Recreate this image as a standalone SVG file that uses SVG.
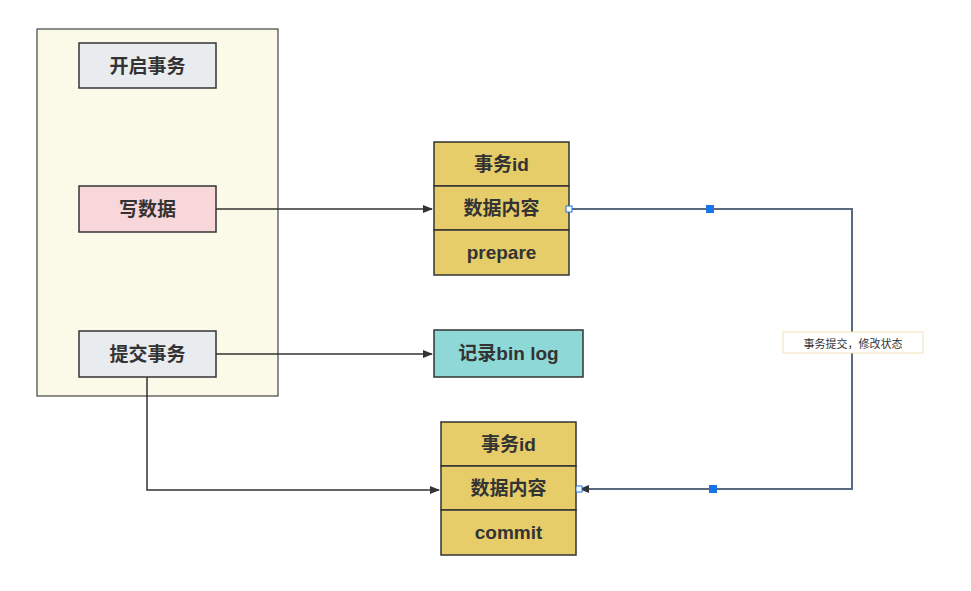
<svg xmlns="http://www.w3.org/2000/svg" width="971" height="591" viewBox="0 0 971 591">
<style>
.t{font-family:"Liberation Sans","Noto Sans CJK SC",sans-serif;font-weight:bold;font-size:19px;fill:#333;text-anchor:middle;dominant-baseline:central}
.b{stroke:#333;stroke-width:1.5}
.y{fill:#e6cd69}
.c{fill:none;stroke:#333;stroke-width:1.5}
.h{fill:#1a73e8}
.w{fill:#fff;stroke:#1a73e8;stroke-width:1}
</style>
<defs><marker id="a" markerWidth="10" markerHeight="8" refX="9" refY="4" orient="auto" markerUnits="userSpaceOnUse"><path d="M0,0 L10,4 L0,8 Z" fill="#333"/></marker></defs>
<rect width="971" height="591" fill="#fff"/>
<g id="container"><rect x="37" y="29" width="241" height="367" fill="#fbf9e8" stroke="#444" stroke-width="1.2"/></g>
<g id="start"><rect class="b" x="79" y="43" width="137" height="45" fill="#e9ecef"/><text class="t" x="147.5" y="66">开启事务</text></g>
<g id="write"><rect class="b" x="79" y="186" width="137" height="46" fill="#f8d7da"/><text class="t" x="147.5" y="209">写数据</text></g>
<g id="commitTx"><rect class="b" x="79" y="331" width="137" height="46" fill="#e9ecef"/><text class="t" x="147.5" y="354">提交事务</text></g>
<g id="prepareTable">
<rect class="b y" x="434" y="142" width="135" height="44"/><text class="t" x="501.5" y="164">事务id</text>
<rect class="b y" x="434" y="186" width="135" height="44"/><text class="t" x="501.5" y="208">数据内容</text>
<rect class="b y" x="434" y="230" width="135" height="45"/><text class="t" x="501.5" y="252">prepare</text>
</g>
<g id="binlog"><rect class="b" x="434" y="330" width="149" height="47" fill="#8fd8d8"/><text class="t" x="508.5" y="353.5">记录bin log</text></g>
<g id="commitTable">
<rect class="b y" x="441" y="422" width="135" height="44"/><text class="t" x="508.5" y="444">事务id</text>
<rect class="b y" x="441" y="466" width="135" height="44"/><text class="t" x="508.5" y="488">数据内容</text>
<rect class="b y" x="441" y="510" width="135" height="45"/><text class="t" x="508.5" y="532">commit</text>
</g>
<g id="connectors">
<path class="c" d="M216,209 H432" marker-end="url(#a)"/>
<path class="c" d="M216,354 H432" marker-end="url(#a)"/>
<path class="c" d="M147,377 V490 H439" marker-end="url(#a)"/>
<path d="M569,209 H852 V489 H580" fill="none" stroke="#5b6b7f" stroke-width="2" marker-end="url(#a)"/>
<rect x="783" y="332" width="140" height="21" fill="#fff" stroke="#f0e3b8"/>
<text x="853" y="342.5" style="font-family:'Noto Sans CJK SC',sans-serif;font-size:11px;fill:#333;text-anchor:middle;dominant-baseline:central">事务提交，修改状态</text>
<rect class="h" x="706" y="205" width="8" height="8"/>
<rect class="h" x="709" y="485" width="8" height="8"/>
<rect class="w" x="566" y="206" width="6" height="6"/>
<rect class="w" x="576" y="486" width="6" height="6"/>
</g>
</svg>
